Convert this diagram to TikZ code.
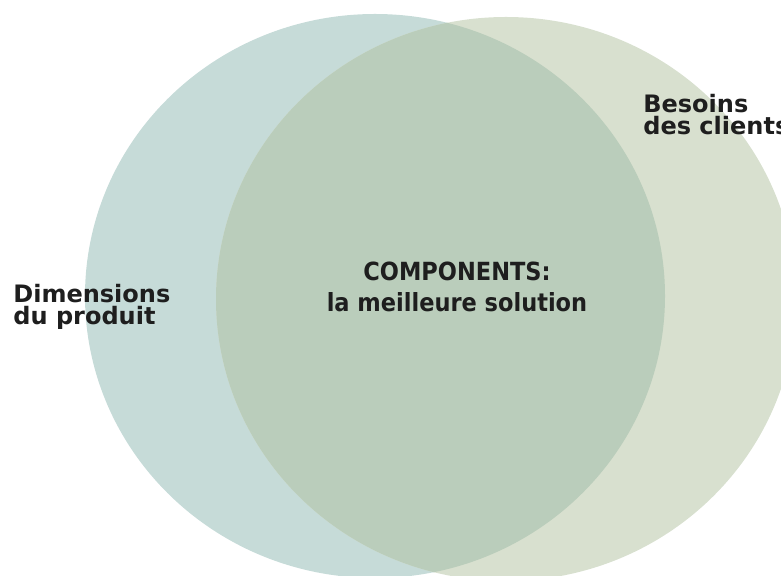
\documentclass[tikz,border=0pt]{standalone}
\usepackage{fontspec}
\newfontfamily\labelfont{DejaVu Sans}
\newfontfamily\mainlabelfont{DejaVu Sans Condensed}
\definecolor{produitcol}{HTML}{C6DBD8}
\definecolor{clientcol}{HTML}{D8E0CF}
\definecolor{overlapcol}{HTML}{BACDBB}
\definecolor{textcol}{HTML}{1E1E1E}
\begin{document}
\begin{tikzpicture}[x=0.5pt,y=-0.5pt,
        side/.style={inner sep=0pt, anchor=base west, align=left, text=textcol,
            font=\labelfont\bfseries\fontsize{12}{11}\selectfont},
        middle/.style={inner sep=0pt, anchor=base, align=center, text=textcol,
            font=\mainlabelfont\bfseries\fontsize{12.5}{15.5}\selectfont}]
            \useasboundingbox (0,0) rectangle (781,576);
            \fill[produitcol] (375,296) ellipse [x radius=290, y radius=282];
            \fill[clientcol] (506,299) ellipse [x radius=290, y radius=282];
            \begin{scope}
                \clip (375,296) ellipse [x radius=290, y radius=282];
                \fill[overlapcol] (506,299) ellipse [x radius=290, y radius=282];
            \end{scope}
            % anchor base = baseline of the last line
            \node[middle] (solution) at (457,312) {COMPONENTS:\\la meilleure solution};
            \node[side] (produit) at (13,325) {Dimensions\\du produit};
            \node[side] (clients) at (643,135) {Besoins\\des clients};
        \end{tikzpicture}
\end{document}
